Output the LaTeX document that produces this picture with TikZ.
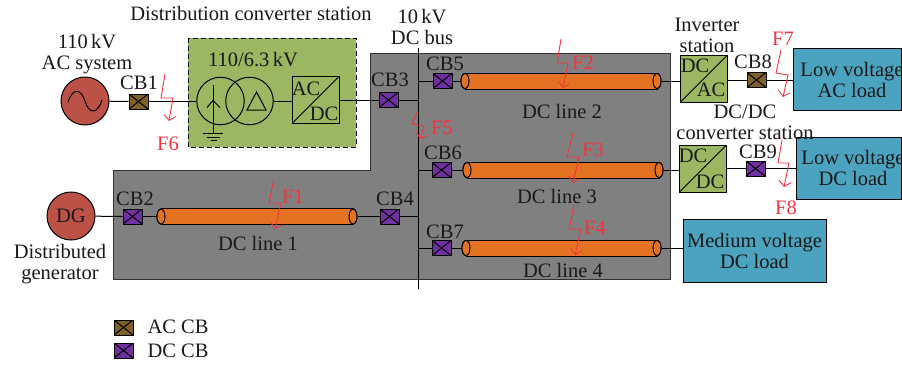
\documentclass[tikz,border=0pt]{standalone}
\usepackage{xcolor}
\usepackage{fontspec}
\setmainfont{Liberation Serif}
\usepackage{tikz}
\usetikzlibrary{shapes.geometric, arrows.meta}

\definecolor{zonegray}{HTML}{808080}
\definecolor{stationgreen}{HTML}{9BB761}
\definecolor{cableorange}{HTML}{E37222}
\definecolor{loadblue}{HTML}{4BA3BF}
\definecolor{sourcered}{HTML}{BC5148}
\definecolor{accb}{HTML}{7F6127}
\definecolor{dccb}{HTML}{7030A0}
\definecolor{faultred}{HTML}{F5333F}

\begin{document}
\begin{tikzpicture}[
    x=1pt, y=-1pt,
    line width=1pt,
    lbl/.style={inner sep=0pt, align=center, text=black!90, font=\fontsize{20.5}{21}\selectfont},
    faultlbl/.style={lbl, text=faultred},
    breaker/.style={rectangle, draw, minimum width=19pt, minimum height=15pt, inner sep=0pt,
        path picture={\draw (path picture bounding box.north west) -- (path picture bounding box.south east)
            (path picture bounding box.south west) -- (path picture bounding box.north east);}},
    acbreaker/.style={breaker, fill=accb},
    dcbreaker/.style={breaker, fill=dccb},
    converter/.style={rectangle, draw, fill=stationgreen, minimum size=47pt, inner sep=0pt,
        path picture={\draw (path picture bounding box.south west) -- (path picture bounding box.north east);}},
    source/.style={circle, draw, fill=sourcered, minimum size=48pt, inner sep=0pt},
    winding/.style={circle, draw, minimum size=47.5pt, inner sep=0pt},
    cableend/.style={ellipse, draw, fill=cableorange, minimum width=8pt, minimum height=15pt, inner sep=0pt},
    load/.style={rectangle, draw, fill=loadblue, inner sep=0pt},
    fault/.style={draw=faultred, line width=0.9pt, -{Straight Barb[length=5pt, width=12pt]}}
]
\useasboundingbox (0,0) rectangle (902,368);

% Grey DC zone and green station
\node[inner sep=0pt, minimum size=0pt] (zonetop) at (370,53) {};
\draw[draw=black!80, fill=zonegray] (zonetop.center) -- (670,53) -- (670,279) -- (113,279) -- (113,170) -- (370,170) -- cycle;
\draw[dashed, dash pattern=on 5pt off 3pt, line width=1pt, fill=stationgreen] (188,38) rectangle (356,147);

% DC bus
\coordinate (bustop) at (418,48);
\coordinate (busbot) at (418,289);
\draw (bustop) -- (busbot);

% Sources
\node[source] (acsource) at (85,101) {};
\draw (68,102) .. controls (73,87) and (81,89) .. (85,101) .. controls (89,114) and (97,115) .. (102,100);
\node[source] (dgsource) at (71,216) {};
\node[lbl] (dglbl) at (71,216) {DG};

% Transformer
\node[winding] (wind1) at (220.5,101) {};
\node[winding] (wind2) at (249.5,101) {};
\draw (213,85) -- (213,133);
\draw (207,107.5) -- (213,100.5) -- (220,107.5);
\draw (203,133) -- (223,133) (207,137) -- (220,137) (210.5,140.5) -- (216.5,140.5);
\draw (247,110) -- (266,110) -- (256.5,92) -- cycle;

% Converters
\node[converter] (conv1) at (315.5,100) {};
\node[converter] (conv2) at (703.5,79) {};
\node[converter] (conv3) at (702.5,169) {};
\node[lbl] (conv1a) at (306,89) {AC};
\node[lbl] (conv1b) at (324,114) {DC};
\node[lbl] (conv2a) at (695,66) {DC};
\node[lbl] (conv2b) at (711,90) {AC};
\node[lbl] (conv3a) at (693,156) {DC};
\node[lbl] (conv3b) at (710,182) {DC};

% Cables
\node[cableend] (cable1l) at (161,216.5) {};
\node[cableend] (cable1r) at (353,216.5) {};
\node[cableend] (cable2l) at (465,81) {};
\node[cableend] (cable2r) at (657,81) {};
\node[cableend] (cable3l) at (467,170) {};
\node[cableend] (cable3r) at (659,170) {};
\node[cableend] (cable4l) at (466,248) {};
\node[cableend] (cable4r) at (657,248) {};
\draw[fill=cableorange] (cable1l.north) rectangle (cable1r.south);
\draw[fill=cableorange] (cable2l.north) rectangle (cable2r.south);
\draw[fill=cableorange] (cable3l.north) rectangle (cable3r.south);
\draw[fill=cableorange] (cable4l.north) rectangle (cable4r.south);
\node[cableend] at (cable1l) {};
\node[cableend] at (cable1r) {};
\node[cableend] at (cable2l) {};
\node[cableend] at (cable2r) {};
\node[cableend] at (cable3l) {};
\node[cableend] at (cable3r) {};
\node[cableend] at (cable4l) {};
\node[cableend] at (cable4r) {};

% Breakers
\node[acbreaker] (cb1) at (138.5,101.5) {};
\node[dcbreaker] (cb2) at (132.5,216.5) {};
\node[dcbreaker] (cb3) at (388.5,100) {};
\node[dcbreaker] (cb4) at (389.5,216.5) {};
\node[dcbreaker] (cb5) at (442.5,81) {};
\node[dcbreaker] (cb6) at (441.5,170) {};
\node[dcbreaker] (cb7) at (441.5,248) {};
\node[acbreaker] (cb8) at (756.5,80) {};
\node[dcbreaker] (cb9) at (755.5,168.5) {};

% Loads
\node[load, minimum width=108pt, minimum height=62pt] (load1) at (847,79) {};
\node[load, minimum width=105pt, minimum height=62pt] (load2) at (848.5,168) {};
\node[load, minimum width=143pt, minimum height=63pt] (load3) at (754.5,250.5) {};

% Connections
\draw (acsource) -- (cb1);
\draw (cb1.east) -- (wind1.west |- cb1);
\draw (wind2.east) -- (wind2.east -| conv1.west);
\draw (conv1.east) -- (cb3.west);
\draw (cb3.east) -- (cb3 -| bustop);
\draw (dgsource) -- (cb2);
\draw (cb2) -- (cable1l);
\draw (cable1r) -- (cb4);
\draw (cb4.east) -- (cb4 -| bustop);
\draw (cb5 -| bustop) -- (cb5.west);
\draw (cb5) -- (cable2l);
\draw (cable2r) -- (cable2r -| conv2.west);
\draw (cb6 -| bustop) -- (cb6.west);
\draw (cb6) -- (cable3l);
\draw (cable3r) -- (cable3r -| conv3.west);
\draw (cb7 -| bustop) -- (cb7.west);
\draw (cb7) -- (cable4l);
\draw (cable4r) -- (cable4r -| load3.west);
\draw (conv2.east |- cb8) -- (cb8.west);
\draw (cb8.east) -- (cb8 -| load1.west);
\draw (conv3.east |- cb9) -- (cb9.west);
\draw (cb9.east) -- (cb9 -| load2.west);

% Faults
\draw[fault] (274,179) -- (269,203) -- (281,203) -- (275,229);
\draw[fault] (561,39) -- (557,63) -- (568,63) -- (563,88);
\draw[fault] (573,133) -- (567,157) -- (579,157) -- (573,183);
\draw[fault] (574,205) -- (569,229) -- (581,229) -- (575,255);
\draw[fault] (418,110) -- (412,124) -- (424,126) -- (420,139);
\draw[fault] (165,74) -- (161,98) -- (173,98) -- (169,121);
\draw[fault] (781,50) -- (776,73) -- (788,75) -- (783,97);
\draw[fault] (782,140) -- (778,163) -- (789,163) -- (784,187);
\node[faultlbl] (f1) at (293,197) {F1};
\node[faultlbl] (f2) at (583,63) {F2};
\node[faultlbl] (f3) at (593,150) {F3};
\node[faultlbl] (f4) at (595,228) {F4};
\node[faultlbl] (f5) at (442,128) {F5};
\node[faultlbl] (f6) at (168,144) {F6};
\node[faultlbl] (f7) at (783,39) {F7};
\node[faultlbl] (f8) at (786,208) {F8};

% Labels
\node[lbl] (stationlbl) at (251,13) {Distribution converter station};
\node[lbl] (buslbl) at (422,26.5) {10\,kV\\DC bus};
\node[lbl] (aclbl) at (87,54) {110\,kV\\AC system};
\node[lbl] (tralbl) at (253,60) {110/6.3\,kV};
\node[lbl] (genlbl) at (60,264.5) {Distributed\\generator};
\node[lbl] (invlbl) at (707,35) {Inverter\\station};
\node[lbl] (dcdclbl) at (745,122.5) {DC/DC\\converter station};
\node[lbl] (cb1lbl) at (139,83) {CB1};
\node[lbl] (cb2lbl) at (135,199) {CB2};
\node[lbl] (cb3lbl) at (390,80) {CB3};
\node[lbl] (cb4lbl) at (395,199) {CB4};
\node[lbl] (cb5lbl) at (445,64) {CB5};
\node[lbl] (cb6lbl) at (443,153) {CB6};
\node[lbl] (cb7lbl) at (445,232) {CB7};
\node[lbl] (cb8lbl) at (753,62) {CB8};
\node[lbl] (cb9lbl) at (758,152) {CB9};
\node[lbl] (line1lbl) at (258,243) {DC line 1};
\node[lbl] (line2lbl) at (562,111) {DC line 2};
\node[lbl] (line3lbl) at (557,196) {DC line 3};
\node[lbl] (line4lbl) at (563,270) {DC line 4};
\node[lbl] at (852,79.5) {Low voltage\\AC load};
\node[lbl] at (853,168) {Low voltage\\DC load};
\node[lbl] at (load3) {Medium voltage\\DC load};

% Legend
\node[acbreaker] (legac) at (123.5,327.5) {};
\node[dcbreaker] (legdc) at (123.5,350.5) {};
\node[lbl, anchor=west] (legaclbl) at (147,327) {AC CB};
\node[lbl, anchor=west] (legdclbl) at (147,351) {DC CB};

\end{tikzpicture}
\end{document}
